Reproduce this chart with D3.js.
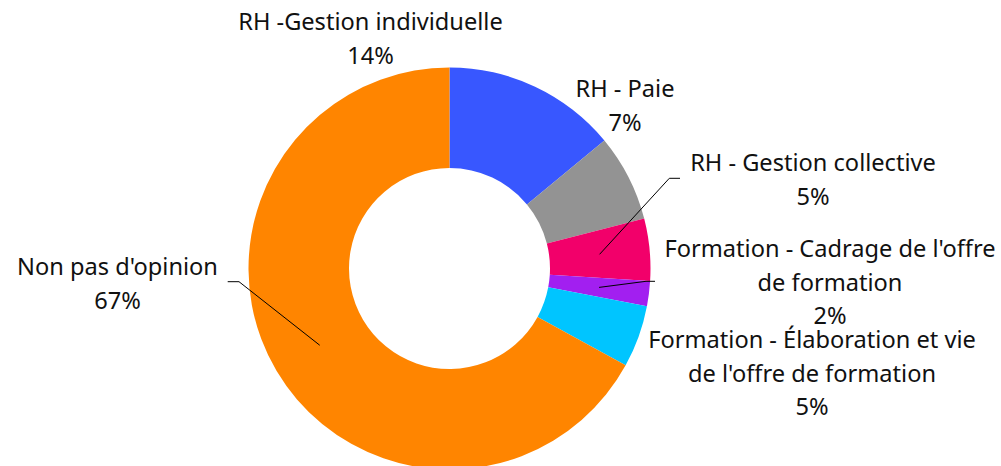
<!DOCTYPE html>
<html>
<head>
<meta charset="utf-8">
<script src="https://cdn.jsdelivr.net/npm/d3@7"></script>
<style>
  html, body { margin: 0; padding: 0; background: #fff; }
  svg text { font-family: "Noto Sans", sans-serif; fill: #111; font-variant-ligatures: none; }
</style>
</head>
<body>
<svg id="chart" width="1001" height="466"></svg>
<script>
// Répartition des réponses par domaine
const categories = [
  "RH -Gestion individuelle",
  "RH - Paie",
  "RH - Gestion collective",
  "Formation - Cadrage de l'offre de formation",
  "Formation - Élaboration et vie de l'offre de formation",
  "Non pas d'opinion"
];
const values = [14, 7, 5, 2, 5, 67];
const colors = ["#3857ff", "#939393", "#f2006a", "#a21ff0", "#00c5ff", "#ff8500"];
// Libellés affichés, découpés en lignes
const labelLines = [
  ["RH -Gestion individuelle"],
  ["RH - Paie"],
  ["RH - Gestion collective"],
  ["Formation - Cadrage de l'offre", "de formation"],
  ["Formation - Élaboration et vie", "de l'offre de formation"],
  ["Non pas d'opinion"]
];

const svg = d3.select("#chart");
const cx = 449.5, cy = 268.5, outerR = 201, innerR = 100.5;
const lineH = 33.5;

// Position du premier libellé (centre, ligne de base) et coude éventuel de la ligne de rappel
const labelLayout = [
  { x: 370.5, y: 30, leader: null },
  { x: 625, y: 97, leader: null },
  { x: 813, y: 171, leader: [[680, 178.3], [669.3, 178.3]] },
  { x: 830, y: 257, leader: [[655, 281.3], [646, 281.3]] },
  { x: 812, y: 348, leader: null },
  { x: 117.5, y: 275, leader: [[227.7, 281.7], [239, 281.7]] }
];

const data = categories.map((c, i) => ({ name: c, value: values[i], color: colors[i], lines: labelLines[i], layout: labelLayout[i] }));

const pie = d3.pie().value(d => d.value).sort(null);
const arc = d3.arc().innerRadius(innerR).outerRadius(outerR);
const arcs = pie(data);

const g = svg.append("g").attr("transform", `translate(${cx},${cy})`);
g.selectAll("path.slice")
  .data(arcs)
  .join("path")
  .attr("class", "slice")
  .attr("d", arc)
  .attr("fill", d => d.data.color);

// Lignes de rappel vers le centre de la tranche
const total = d3.sum(values);
svg.selectAll("polyline.leader")
  .data(arcs.filter(d => d.data.layout.leader))
  .join("polyline")
  .attr("class", "leader")
  .attr("fill", "none")
  .attr("stroke", "#000")
  .attr("stroke-width", 1)
  .attr("points", d => {
    const c = arc.centroid(d);
    const pts = d.data.layout.leader.concat([[c[0] + cx, c[1] + cy]]);
    return pts.map(p => p.join(",")).join(" ");
  });

// Libellés : nom puis pourcentage
const labels = svg.selectAll("text.label")
  .data(arcs)
  .join("text")
  .attr("class", "label")
  .attr("text-anchor", "middle")
  .attr("font-size", 23.6)
  .attr("x", d => d.data.layout.x)
  .attr("y", d => d.data.layout.y);

labels.each(function(d) {
  const t = d3.select(this);
  const lines = d.data.lines.concat([d3.format(".0%")(d.data.value / total)]);
  lines.forEach((ln, i) => {
    t.append("tspan")
      .attr("x", d.data.layout.x)
      .attr("y", d.data.layout.y + i * lineH)
      .text(ln);
  });
});
</script>
</body>
</html>
